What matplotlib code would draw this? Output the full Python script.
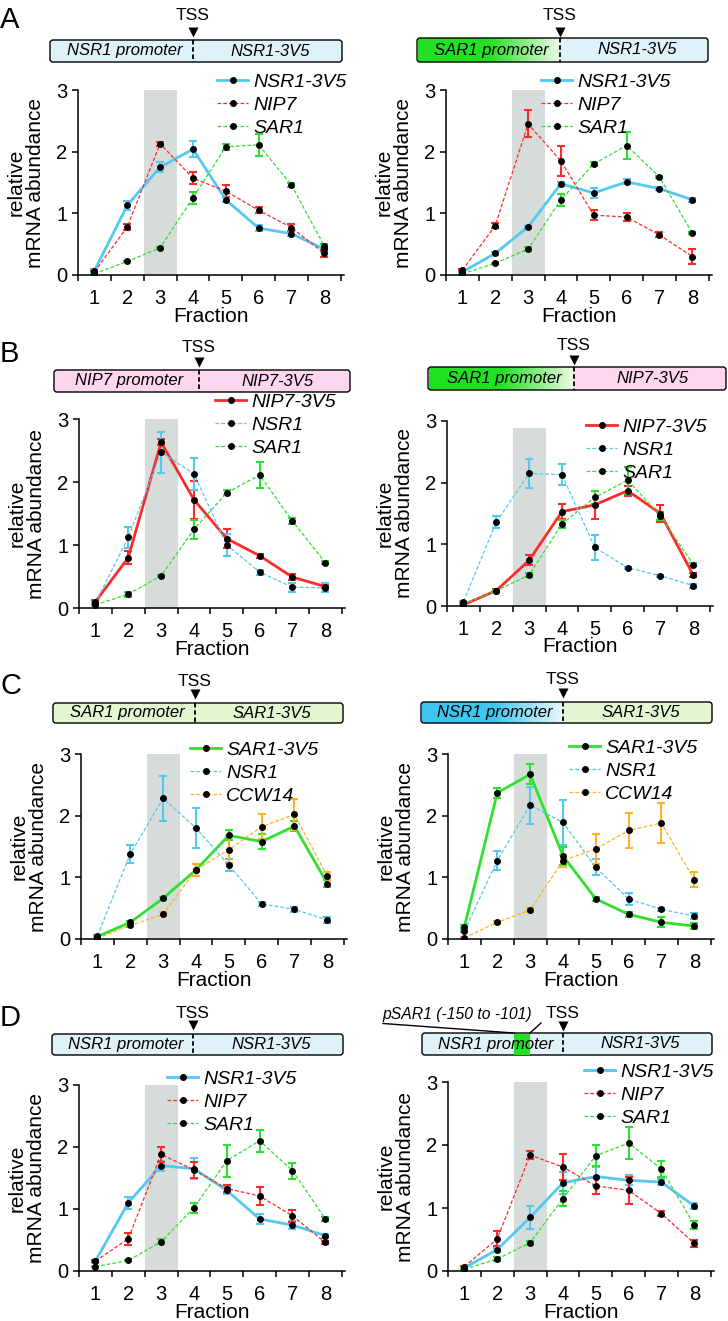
import matplotlib
matplotlib.use("Agg")
import matplotlib.pyplot as plt
import numpy as np
from matplotlib.lines import Line2D
from matplotlib.patches import FancyBboxPatch, Rectangle
from matplotlib.colors import to_rgb

plt.rcParams['font.family'] = ['Liberation Sans', 'DejaVu Sans']

W, H = 728, 1321

fractions = [1, 2, 3, 4, 5, 6, 7, 8]

# ---- data (relative mRNA abundance, mean and error) ----
# A left: NSR1 promoter -> NSR1-3V5
a1_nsr1_3v5 = [0.07, 1.13, 1.75, 2.04, 1.22, 0.76, 0.67, 0.42]
a1_nsr1_3v5_err = [0.02, 0.07, 0.08, 0.13, 0.04, 0.05, 0.04, 0.04]
a1_nip7 = [0.05, 0.78, 2.13, 1.57, 1.36, 1.05, 0.77, 0.35]
a1_nip7_err = [0.01, 0.05, 0.03, 0.10, 0.10, 0.05, 0.05, 0.06]
a1_sar1 = [0.02, 0.22, 0.44, 1.25, 2.08, 2.11, 1.46, 0.47]
a1_sar1_err = [0.01, 0.01, 0.02, 0.10, 0.05, 0.18, 0.03, 0.03]

# A right: SAR1 promoter -> NSR1-3V5
a2_nsr1_3v5 = [0.05, 0.35, 0.78, 1.48, 1.33, 1.51, 1.40, 1.22]
a2_nsr1_3v5_err = [0.01, 0.02, 0.02, 0.03, 0.08, 0.04, 0.02, 0.03]
a2_nip7 = [0.08, 0.80, 2.45, 1.85, 0.97, 0.94, 0.65, 0.30]
a2_nip7_err = [0.01, 0.04, 0.22, 0.25, 0.08, 0.07, 0.04, 0.12]
a2_sar1 = [0.02, 0.19, 0.42, 1.22, 1.80, 2.10, 1.59, 0.68]
a2_sar1_err = [0.01, 0.01, 0.03, 0.10, 0.03, 0.22, 0.02, 0.02]

# B left: NIP7 promoter -> NIP7-3V5
b1_nip7_3v5 = [0.10, 0.80, 2.63, 1.72, 1.10, 0.83, 0.49, 0.34]
b1_nip7_3v5_err = [0.02, 0.10, 0.05, 0.30, 0.15, 0.03, 0.05, 0.03]
b1_nsr1 = [0.08, 1.12, 2.47, 2.13, 1.00, 0.57, 0.33, 0.32]
b1_nsr1_err = [0.02, 0.17, 0.33, 0.25, 0.18, 0.04, 0.07, 0.07]
b1_sar1 = [0.05, 0.22, 0.51, 1.25, 1.83, 2.11, 1.38, 0.72]
b1_sar1_err = [0.01, 0.04, 0.02, 0.15, 0.04, 0.21, 0.05, 0.02]

# B right: SAR1 promoter -> NIP7-3V5
b2_nip7_3v5 = [0.02, 0.25, 0.74, 1.53, 1.64, 1.87, 1.50, 0.50]
b2_nip7_3v5_err = [0.01, 0.02, 0.08, 0.12, 0.23, 0.08, 0.13, 0.03]
b2_nsr1 = [0.07, 1.36, 2.15, 2.13, 0.95, 0.62, 0.49, 0.33]
b2_nsr1_err = [0.01, 0.10, 0.23, 0.17, 0.20, 0.02, 0.02, 0.03]
b2_sar1 = [0.03, 0.25, 0.50, 1.33, 1.76, 2.04, 1.46, 0.67]
b2_sar1_err = [0.01, 0.01, 0.03, 0.06, 0.10, 0.22, 0.07, 0.02]

# C left: SAR1 promoter -> SAR1-3V5
c1_sar1_3v5 = [0.04, 0.27, 0.66, 1.12, 1.68, 1.58, 1.83, 0.90]
c1_sar1_3v5_err = [0.01, 0.03, 0.02, 0.10, 0.08, 0.12, 0.08, 0.05]
c1_nsr1 = [0.05, 1.38, 2.28, 1.80, 1.20, 0.57, 0.48, 0.31]
c1_nsr1_err = [0.01, 0.14, 0.36, 0.32, 0.10, 0.03, 0.04, 0.05]
c1_ccw14 = [0.01, 0.22, 0.40, 1.12, 1.45, 1.82, 2.02, 1.02]
c1_ccw14_err = [0.01, 0.03, 0.03, 0.10, 0.22, 0.20, 0.25, 0.06]

# C right: NSR1 promoter -> SAR1-3V5
c2_sar1_3v5 = [0.20, 2.37, 2.67, 1.35, 0.65, 0.40, 0.27, 0.21]
c2_sar1_3v5_err = [0.02, 0.08, 0.16, 0.15, 0.03, 0.04, 0.08, 0.05]
c2_nsr1 = [0.13, 1.27, 2.17, 1.89, 1.16, 0.65, 0.48, 0.37]
c2_nsr1_err = [0.02, 0.15, 0.30, 0.36, 0.13, 0.10, 0.02, 0.05]
c2_ccw14 = [0.02, 0.27, 0.47, 1.27, 1.46, 1.76, 1.88, 0.96]
c2_ccw14_err = [0.01, 0.02, 0.04, 0.10, 0.25, 0.28, 0.33, 0.12]

# D left: NSR1 promoter -> NSR1-3V5
d1_nsr1_3v5 = [0.16, 1.10, 1.70, 1.65, 1.30, 0.84, 0.74, 0.57]
d1_nsr1_3v5_err = [0.02, 0.10, 0.08, 0.17, 0.05, 0.08, 0.07, 0.03]
d1_nip7 = [0.16, 0.52, 1.88, 1.63, 1.33, 1.21, 0.89, 0.46]
d1_nip7_err = [0.02, 0.10, 0.12, 0.13, 0.06, 0.15, 0.10, 0.03]
d1_sar1 = [0.07, 0.17, 0.47, 1.02, 1.78, 2.10, 1.62, 0.84]
d1_sar1_err = [0.01, 0.01, 0.04, 0.08, 0.26, 0.18, 0.13, 0.03]

# D right: NSR1 promoter with pSAR1 (-150 to -101) -> NSR1-3V5
d2_nsr1_3v5 = [0.05, 0.34, 0.85, 1.40, 1.50, 1.44, 1.41, 1.03]
d2_nsr1_3v5_err = [0.01, 0.03, 0.18, 0.17, 0.15, 0.08, 0.05, 0.05]
d2_nip7 = [0.07, 0.51, 1.84, 1.65, 1.35, 1.28, 0.91, 0.44]
d2_nip7_err = [0.01, 0.12, 0.07, 0.20, 0.13, 0.22, 0.04, 0.06]
d2_sar1 = [0.03, 0.19, 0.45, 1.15, 1.83, 2.03, 1.62, 0.73]
d2_sar1_err = [0.01, 0.03, 0.03, 0.12, 0.17, 0.25, 0.13, 0.07]

CYAN = '#55c8f2'
RED = '#ff2a2a'
GREEN = '#30e030'
ORANGE = '#ffb224'
SHADE = '#d5dcda'

FS_TICK = 14.5
FS_LAB = 15
FS_LEG = 14
FS_BOX = 12

fig = plt.figure(figsize=(W / 100, H / 100), dpi=100)

# overlay axes in pixel coordinates for the construct diagrams
ov = fig.add_axes([0, 0, 1, 1], zorder=5)
ov.set_xlim(0, W)
ov.set_ylim(H, 0)
ov.axis('off')


def make_plot(x0, y0, y3, series, legend_x, legend_y, shade_top=3.0):
    # series: list of (label, values, errors, color, primary)
    width_px = 266
    ax = fig.add_axes([x0 / W, 1 - y0 / H, width_px / W, (y0 - y3) / H])
    ax.axvspan(2.5, 3.5, ymin=0, ymax=shade_top / 3.0, color=SHADE, lw=0, zorder=0)
    handles = []
    for label, vals, errs, color, primary in series:
        if primary:
            ls, lw = '-', 2.0
        else:
            ls, lw = (0, (3, 1.6)), 0.9
        ax.errorbar(fractions, vals, yerr=errs, fmt='none', ecolor=color,
                    elinewidth=1.5, capsize=3, capthick=1.5, zorder=2)
        ax.plot(fractions, vals, color=color, ls=ls, lw=lw, zorder=3)
        ax.plot(fractions, vals, 'o', color='black', ms=5, mec='none', zorder=4)
        handles.append(Line2D([], [], color=color, ls=ls, lw=lw, marker='o',
                              markersize=5, mfc='black', mec='none',
                              label=label))
    ax.set_xlim(0.5, 8.6)
    ax.set_ylim(0, 3)
    ax.set_xticks(np.arange(0.5, 9, 1.0))
    ax.set_xticklabels([])
    ax.set_xticks(fractions, minor=True)
    ax.set_xticklabels([str(f) for f in fractions], minor=True, fontsize=FS_TICK)
    ax.tick_params(axis='x', which='minor', length=0, pad=10)
    ax.tick_params(axis='x', which='major', length=4.5, width=1.1, direction='out')
    ax.set_yticks([0, 1, 2, 3])
    ax.set_yticklabels(['0', '1', '2', '3'], fontsize=FS_TICK)
    ax.tick_params(axis='y', length=4.5, width=1.1, pad=3)
    for s in ['top', 'right']:
        ax.spines[s].set_visible(False)
    for s in ['left', 'bottom']:
        ax.spines[s].set_linewidth(1.1)
    ax.set_facecolor('none')
    ax.set_xlabel('Fraction', fontsize=FS_LAB, labelpad=-1)
    ax.set_ylabel('relative\nmRNA abundance', fontsize=FS_LAB, linespacing=1.0)
    ax.yaxis.set_label_coords(-0.125, 0.5)
    leg = ax.legend(handles=handles, loc='upper left',
                    bbox_to_anchor=(legend_x / W, 1 - legend_y / H),
                    bbox_transform=fig.transFigure, frameon=False,
                    prop={'size': FS_LEG, 'style': 'italic'},
                    handlelength=1.6, handletextpad=0.25, labelspacing=0.28,
                    borderpad=0, borderaxespad=0)
    leg.set_zorder(6)
    return ax


def gradient_fill(x1, x2, ytop, ybot, c_left, c_right, hold=0.5):
    n = 256
    t = np.linspace(0, 1, n)
    t = np.clip((t - hold) / (1 - hold), 0, 1)
    cl = np.array(to_rgb(c_left))
    cr = np.array(to_rgb(c_right))
    img = cl[None, :] * (1 - t[:, None]) + cr[None, :] * t[:, None]
    img = img[None, :, :]
    ov.imshow(img, extent=(x1, x2, ybot, ytop), aspect='auto', zorder=1,
              interpolation='bilinear')


def construct(x1, x2, ytop, ybot, xdiv, left_text, right_text, fill,
              tss_y, tri_y, grad=None):
    if grad is not None:
        ov.add_patch(Rectangle((xdiv, ytop), x2 - xdiv, ybot - ytop,
                               facecolor=fill, edgecolor='none', zorder=1))
        gradient_fill(x1 + 1, xdiv, ytop, ybot, grad[0], grad[1])
        box = FancyBboxPatch((x1, ytop), x2 - x1, ybot - ytop,
                             boxstyle='round,pad=0,rounding_size=3',
                             facecolor='none', edgecolor='black', lw=1.0, zorder=3)
    else:
        box = FancyBboxPatch((x1, ytop), x2 - x1, ybot - ytop,
                             boxstyle='round,pad=0,rounding_size=3',
                             facecolor=fill, edgecolor='black', lw=1.0, zorder=3)
    ov.add_patch(box)
    ov.plot([xdiv, xdiv], [ytop, ybot], color='black', lw=1.3,
            ls=(0, (2.5, 1.5)), zorder=4)
    ym = (ytop + ybot) / 2
    ov.text((x1 + xdiv) / 2 + 3, ym, left_text, ha='center', va='center',
            fontsize=FS_BOX, style='italic', zorder=5)
    ov.text((xdiv + x2) / 2 + 3, ym, right_text, ha='center', va='center',
            fontsize=FS_BOX, style='italic', zorder=5)
    ov.text(xdiv, tss_y, 'TSS', ha='center', va='center', fontsize=12.5, zorder=5)
    ov.plot([xdiv], [tri_y], marker='v', color='black', ms=7.5, mec='none', zorder=5)


NSR1_BG = '#dff2fa'
NIP7_BG = '#fcd6ee'
SAR1_BG = '#e2f6d2'

# panel letters
for letter, yy in [('A', 20), ('B', 354), ('C', 686), ('D', 1018)]:
    ov.text(0, yy, letter, ha='left', va='center', fontsize=21)

# A
construct(50, 342, 40, 62, 193, 'NSR1 promoter', 'NSR1-3V5', NSR1_BG, 16, 32)
construct(417, 708, 38, 62, 560, 'SAR1 promoter', 'NSR1-3V5', NSR1_BG, 16, 32,
          grad=('#22e022', '#eefbe8'))
make_plot(78, 275, 90,
          [('NSR1-3V5', a1_nsr1_3v5, a1_nsr1_3v5_err, CYAN, True),
           ('NIP7', a1_nip7, a1_nip7_err, RED, False),
           ('SAR1', a1_sar1, a1_sar1_err, GREEN, False)],
          217, 73)
make_plot(446, 275, 90,
          [('NSR1-3V5', a2_nsr1_3v5, a2_nsr1_3v5_err, CYAN, True),
           ('NIP7', a2_nip7, a2_nip7_err, RED, False),
           ('SAR1', a2_sar1, a2_sar1_err, GREEN, False)],
          541, 73)

# B
construct(54, 350, 370, 392, 199, 'NIP7 promoter', 'NIP7-3V5', NIP7_BG, 348, 362)
construct(428, 726, 367, 390, 574, 'SAR1 promoter', 'NIP7-3V5', NIP7_BG, 345, 360,
          grad=('#22e022', '#eefbe8'))
make_plot(79, 608, 419,
          [('NIP7-3V5', b1_nip7_3v5, b1_nip7_3v5_err, RED, True),
           ('NSR1', b1_nsr1, b1_nsr1_err, CYAN, False),
           ('SAR1', b1_sar1, b1_sar1_err, GREEN, False)],
          215, 393)
make_plot(447, 606, 421,
          [('NIP7-3V5', b2_nip7_3v5, b2_nip7_3v5_err, RED, True),
           ('NSR1', b2_nsr1, b2_nsr1_err, CYAN, False),
           ('SAR1', b2_sar1, b2_sar1_err, GREEN, False)],
          586, 418, shade_top=2.88)

# C
construct(53, 343, 703, 723, 195, 'SAR1 promoter', 'SAR1-3V5', SAR1_BG, 682, 694)
construct(421, 712, 702, 723, 563, 'NSR1 promoter', 'SAR1-3V5', SAR1_BG, 680, 693,
          grad=('#3cc6f0', '#eaf8fc'))
make_plot(81, 939, 754,
          [('SAR1-3V5', c1_sar1_3v5, c1_sar1_3v5_err, GREEN, True),
           ('NSR1', c1_nsr1, c1_nsr1_err, CYAN, False),
           ('CCW14', c1_ccw14, c1_ccw14_err, ORANGE, False)],
          190, 741)
make_plot(448, 939, 754,
          [('SAR1-3V5', c2_sar1_3v5, c2_sar1_3v5_err, GREEN, True),
           ('NSR1', c2_nsr1, c2_nsr1_err, CYAN, False),
           ('CCW14', c2_ccw14, c2_ccw14_err, ORANGE, False)],
          569, 739)

# D
construct(52, 343, 1034, 1055, 193, 'NSR1 promoter', 'NSR1-3V5', NSR1_BG, 1013, 1025)
construct(422, 712, 1033, 1055, 563, 'NSR1 promoter', 'NSR1-3V5', NSR1_BG, 1013, 1026)
ov.add_patch(Rectangle((514, 1033.5), 16, 21, facecolor='#22e022', edgecolor='none', zorder=4))
ov.text(382, 1015, 'pSAR1 (-150 to -101)', ha='left', va='center', fontsize=11.3,
        style='italic', zorder=5)
ov.plot([383, 514], [1023.5, 1033], color='black', lw=1.0, zorder=5)
ov.plot([530, 541], [1033, 1023], color='black', lw=1.0, zorder=5)
make_plot(79, 1271, 1085,
          [('NSR1-3V5', d1_nsr1_3v5, d1_nsr1_3v5_err, CYAN, True),
           ('NIP7', d1_nip7, d1_nip7_err, RED, False),
           ('SAR1', d1_sar1, d1_sar1_err, GREEN, False)],
          167, 1070)
make_plot(448, 1271, 1082,
          [('NSR1-3V5', d2_nsr1_3v5, d2_nsr1_3v5_err, CYAN, True),
           ('NIP7', d2_nip7, d2_nip7_err, RED, False),
           ('SAR1', d2_sar1, d2_sar1_err, GREEN, False)],
          584, 1063)

fig.savefig('out.png', dpi=100)
